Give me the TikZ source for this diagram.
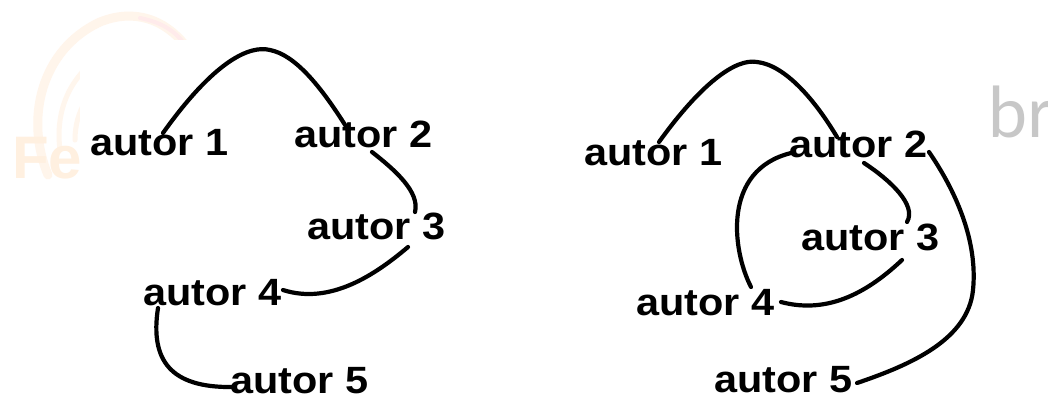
\documentclass[tikz,border=0pt]{standalone}
\usepackage{fontspec}
\setmainfont{Liberation Sans}
\newfontfamily\markfont{Lato}
\usetikzlibrary{calc}
\tikzset{
  autor/.style={anchor=base west, inner sep=0pt, outer sep=0pt,
    font=\fontsize{38}{40}\selectfont\bfseries},
  link/.style={line width=4.2pt, line cap=round, black},
  faint/.style={line width=9pt, line cap=round, color=orange!8},
}
\newcommand{\aut}[1]{\scalebox{1.09}[1]{autor #1}}
\begin{document}
\begin{tikzpicture}[x=1pt, y=-1pt]
\useasboundingbox (0,0) rectangle (1048,400);
\clip (0,0) rectangle (1048,400);
\fill[white] (0,0) rectangle (1048,400);

% faded logo in the upper left corner
\draw[faint] (48,175) .. controls (25,120) and (40,50) .. (100,22)
  .. controls (135,8) and (165,20) .. (185,45);
\draw[faint, line width=5pt, color=orange!7] (60,150) .. controls (55,110) and (70,80) .. (95,60);
\draw[faint, line width=5pt, color=orange!7] (75,140) .. controls (75,110) and (90,90) .. (110,80);
\draw[faint, line width=4pt, color=red!8] (140,18) .. controls (160,22) and (175,30) .. (185,45);
\node[anchor=base west, inner sep=0pt, text=orange!12,
  font=\fontsize{60}{60}\selectfont\bfseries] (logo) at (12,178) {Fe};
\fill[white] (80,40) rectangle (520,192);

% faded lettering on the right
\node[anchor=base west, inner sep=0pt, text=black!22,
  font=\fontsize{70}{70}\selectfont\markfont] (mark) at (988,137) {br};

% left network
\node[autor] (a1) at (90,155) {\aut{1}};
\node[autor] (a2) at (294,147) {\aut{2}};
\node[autor] (a3) at (307,239) {\aut{3}};
\node[autor] (a4) at (143,305) {\aut{4}};
\node[autor] (a5) at (230,393) {\aut{5}};

\draw[link] ($(a1.base west)+(73,-22)$) .. controls (215,60) and (250,45) .. (270,50)
  .. controls (295,55) and (320,85) .. ($(a2.base west)+(53,-19)$);
\draw[link] ($(a2.base west)+(78,5)$) .. controls (395,170) and (420,192) .. ($(a3.base west)+(108,-27)$);
\draw[link] ($(a3.base west)+(101,8)$) .. controls (375,275) and (330,305) .. ($(a4.base west)+(140,-15)$);
\draw[link] ($(a4.base west)+(15,3)$) .. controls (150,360) and (170,388) .. ($(a5.base west)+(3,-6)$);

% right network
\node[autor] (b1) at (584,165) {\aut{1}};
\node[autor] (b2) at (789,157) {\aut{2}};
\node[autor] (b3) at (801,250) {\aut{3}};
\node[autor] (b4) at (636,315) {\aut{4}};
\node[autor] (b5) at (714,392) {\aut{5}};

\draw[link] ($(b1.base west)+(75,-23)$) .. controls (700,85) and (735,58) .. (757,62)
  .. controls (785,65) and (815,100) .. ($(b2.base west)+(48,-20)$);
\draw[link] ($(b2.base west)+(75,6)$) .. controls (890,180) and (917,205) .. ($(b3.base west)+(106,-28)$);
\draw[link] ($(b3.base west)+(101,10)$) .. controls (870,290) and (830,315) .. ($(b4.base west)+(145,-13)$);
\draw[link] ($(b4.base west)+(115,-28)$) .. controls (732,250) and (722,170) .. ($(b2.base west)+(2,-4)$);
\draw[link] ($(b2.base west)+(140,-5)$) .. controls (955,190) and (978,240) .. (973,290)
  .. controls (968,340) and (910,365) .. ($(b5.base west)+(143,-9)$);
\end{tikzpicture}
\end{document}
